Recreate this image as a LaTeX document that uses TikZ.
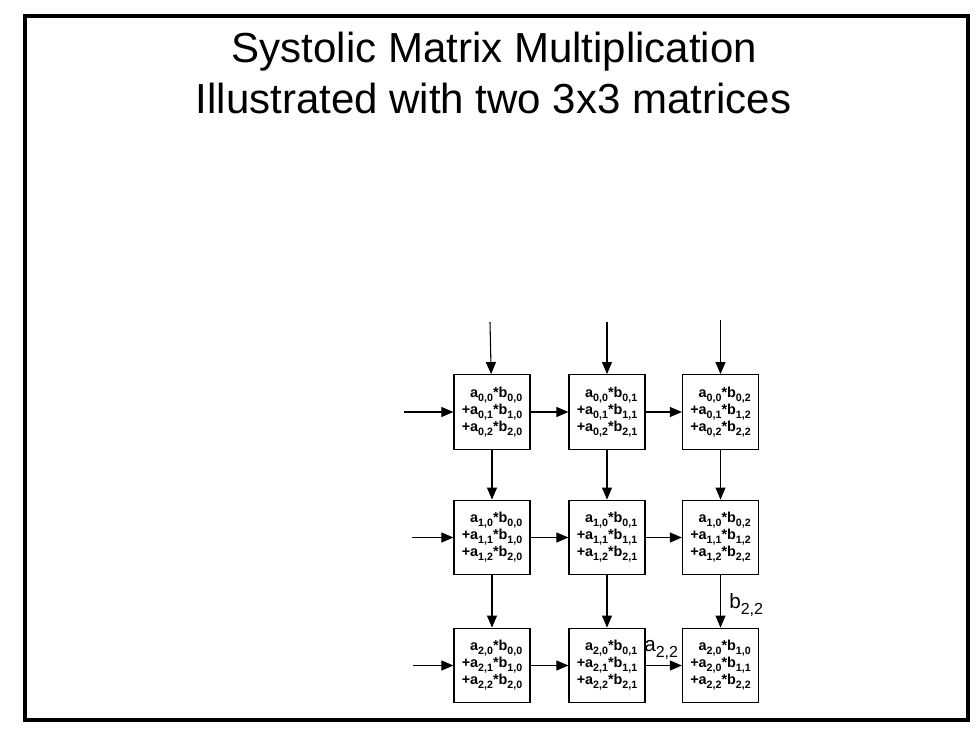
\documentclass[tikz,border=0pt]{standalone}
\usepackage{fontspec}
\setmainfont{Liberation Sans}
\usetikzlibrary{arrows.meta}
\newcommand{\sbs}[1]{\raisebox{-3pt}{\fontsize{8pt}{8pt}\selectfont #1}}
\newcommand{\lsb}[1]{\raisebox{-4.5pt}{\fontsize{12pt}{12pt}\selectfont #1}}
\begin{document}
\begin{tikzpicture}[x=0.75pt,y=-0.75pt,
  pe/.style={draw, line width=0.9pt, minimum width=57pt, minimum height=56pt, inner sep=0pt, align=right, font=\fontsize{10.8pt}{12.8pt}\selectfont\bfseries},
  flow/.style={-{Triangle[length=9pt,width=7.5pt]}, line width=0.8pt},
  ttl/.style={anchor=base, inner sep=0pt, font=\fontsize{31.5pt}{38pt}\selectfont},
  lbl/.style={anchor=base west, inner sep=0pt, font=\fontsize{15.5pt}{17pt}\selectfont}]
\useasboundingbox (0,0) rectangle (979,738);
\draw[line width=3pt] (25,16) rectangle (968,720);
\node[ttl] (t1) at (494.5,63) {Systolic Matrix Multiplication};
\node[ttl] (t2) at (493.5,114) {Illustrated with two 3x3 matrices};
% cells
\node[pe] (c00) at (492,412) {a\sbs{0,0}*b\sbs{0,0}\\+a\sbs{0,1}*b\sbs{1,0}\\+a\sbs{0,2}*b\sbs{2,0}};
\node[pe] (c01) at (607,412) {a\sbs{0,0}*b\sbs{0,1}\\+a\sbs{0,1}*b\sbs{1,1}\\+a\sbs{0,2}*b\sbs{2,1}};
\node[pe] (c02) at (720.5,412) {a\sbs{0,0}*b\sbs{0,2}\\+a\sbs{0,1}*b\sbs{1,2}\\+a\sbs{0,2}*b\sbs{2,2}};
\node[pe] (c10) at (492,537.5) {a\sbs{1,0}*b\sbs{0,0}\\+a\sbs{1,1}*b\sbs{1,0}\\+a\sbs{1,2}*b\sbs{2,0}};
\node[pe] (c11) at (607,537.5) {a\sbs{1,0}*b\sbs{0,1}\\+a\sbs{1,1}*b\sbs{1,1}\\+a\sbs{1,2}*b\sbs{2,1}};
\node[pe] (c12) at (720.5,537.5) {a\sbs{1,0}*b\sbs{0,2}\\+a\sbs{1,1}*b\sbs{1,2}\\+a\sbs{1,2}*b\sbs{2,2}};
\node[pe] (c20) at (492,665.5) {a\sbs{2,0}*b\sbs{0,0}\\+a\sbs{2,1}*b\sbs{1,0}\\+a\sbs{2,2}*b\sbs{2,0}};
\node[pe] (c21) at (607,665.5) {a\sbs{2,0}*b\sbs{0,1}\\+a\sbs{2,1}*b\sbs{1,1}\\+a\sbs{2,2}*b\sbs{2,1}};
\node[pe] (c22) at (720.5,665.5) {a\sbs{2,0}*b\sbs{1,0}\\+a\sbs{2,0}*b\sbs{1,1}\\+a\sbs{2,2}*b\sbs{2,2}};
% free input ends
\coordinate (tp0) at (490,322);
\coordinate (tp1) at (607,322);
\coordinate (tp2) at (720.5,320);
\coordinate (la0) at (404,412);
\coordinate (la1) at (412,537.5);
\coordinate (la2) at (413,665.5);
% connectors
\draw[flow] (tp0) -- (c00);
\draw[flow] (tp1) -- (c01);
\draw[flow] (tp2) -- (c02);
\draw[flow] (la0) -- (c00);
\draw[flow] (la1) -- (c10);
\draw[flow] (la2) -- (c20);
\draw[flow] (c00) -- (c01);
\draw[flow] (c01) -- (c02);
\draw[flow] (c10) -- (c11);
\draw[flow] (c11) -- (c12);
\draw[flow] (c20) -- (c21);
\draw[flow] (c21) -- (c22);
\draw[flow] (c00) -- (c10);
\draw[flow] (c10) -- (c20);
\draw[flow] (c01) -- (c11);
\draw[flow] (c11) -- (c21);
\draw[flow] (c02) -- (c12);
\draw[flow] (c12) -- (c22);
% labels
\node[lbl] (lb) at (729,608) {b\lsb{2,2}};
\node[lbl] (la) at (644,651) {a\lsb{2,2}};
\end{tikzpicture}
\end{document}
